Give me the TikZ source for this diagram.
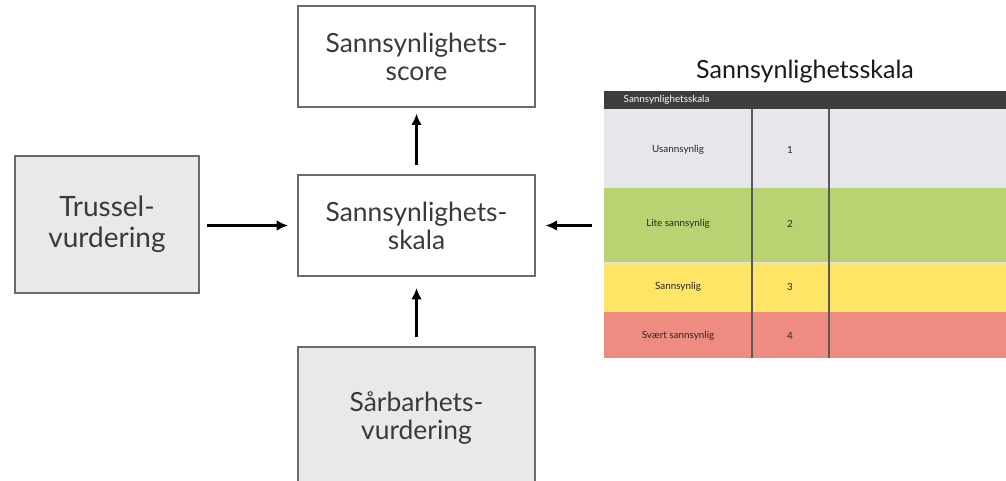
\documentclass[tikz,border=0pt]{standalone}
\usepackage{fontspec}
\setmainfont{Lato}
\usetikzlibrary{arrows.meta}
\definecolor{boxgray}{HTML}{E8E9EB}
\definecolor{edgegray}{HTML}{6A6A6A}
\definecolor{txt}{HTML}{3A3A3A}
\definecolor{hdr}{HTML}{3D3D3D}
\definecolor{rowgray}{HTML}{E7E6EB}
\definecolor{rowgreen}{HTML}{B9D373}
\definecolor{rowyellow}{HTML}{FEE566}
\definecolor{rowred}{HTML}{EF8C82}
\tikzset{
  box/.style={draw=edgegray, line width=0.9pt, inner sep=0pt, outer sep=0pt, align=center,
              text=txt, font=\fontsize{19.8}{21}\selectfont},
  widebox/.style={box, minimum width=177.75pt, minimum height=75.75pt},
  arr/.style={line width=1.8pt, -{Latex[length=8.5pt,width=8pt]}},
  celltxt/.style={font=\fontsize{7.4}{8}\selectfont, text=black!85},
  sep/.style={draw=hdr!85, line width=1pt}
}
\begin{document}
\begin{tikzpicture}[x=0.75pt,y=-0.75pt]
\useasboundingbox (0,0) rectangle (1006,481);
% boxes
\node[widebox, fill=white] (score) at (416.5,56.5) {Sannsynlighets-\\score};
\node[widebox, fill=white] (skala) at (416.5,225.5) {Sannsynlighets-\\skala};
\node[box, fill=boxgray, font=\fontsize{21}{23}\selectfont, minimum width=138pt, minimum height=102.75pt] (trussel) at (107,224.5) {Trussel-\\vurdering};
\node[box, fill=boxgray, minimum width=177.75pt, minimum height=106.5pt] (sarbar) at (416.5,418) {Sårbarhets-\\vurdering};
% table
\node[inner sep=0pt, outer sep=0pt, minimum width=301.5pt, minimum height=200.25pt] (tbl) at (805,224.5) {};
\node[font=\fontsize{18.8}{20}\selectfont, text=black!90] (title) at (805,72) {Sannsynlighetsskala};
\fill[hdr] (604,91) rectangle (1006,109);
\fill[rowgray] (604,109) rectangle (1006,187);
\fill[rowgreen] (604,187) rectangle (1006,262);
\fill[rowyellow] (604,262) rectangle (1006,311);
\fill[rowred] (604,311) rectangle (1006,358);
\draw[white!80!gray, line width=0.6pt] (604,187) -- (1006,187) (604,262) -- (1006,262) (604,311) -- (1006,311);
\draw[sep] (752,109) -- (752,358);
\draw[sep] (829,109) -- (829,358);
\node[font=\fontsize{7.4}{8}\selectfont, text=white, anchor=west] (hdrtxt) at (619,100) {Sannsynlighetsskala};
\node[celltxt] (r1a) at (678,150) {Usannsynlig};
\node[celltxt] (r1b) at (790,150) {1};
\node[celltxt] (r2a) at (678,224) {Lite sannsynlig};
\node[celltxt] (r2b) at (790,224) {2};
\node[celltxt] (r3a) at (678,287) {Sannsynlig};
\node[celltxt] (r3b) at (790,287) {3};
\node[celltxt] (r4a) at (678,336) {Svært sannsynlig};
\node[celltxt] (r4b) at (790,336) {4};
% arrows
\draw[arr, shorten <=7.5pt, shorten >=5pt] (skala.north) -- (score.south);
\draw[arr, shorten <=6pt, shorten >=7.5pt] (trussel.east |- skala.west) -- (skala.west);
\draw[arr, shorten <=9pt, shorten >=8pt] (tbl.west |- skala.east) -- (skala.east);
\draw[arr, shorten <=7.5pt, shorten >=9pt] (sarbar.north) -- (skala.south);
\end{tikzpicture}
\end{document}
